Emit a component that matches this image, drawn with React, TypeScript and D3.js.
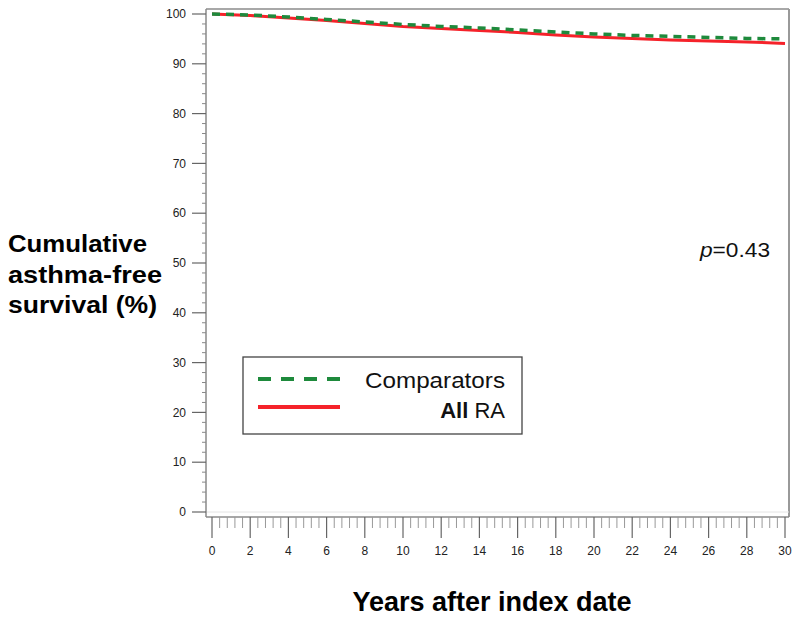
import React from "react";
import * as d3 from "d3";

const years = [0, 2, 4, 6, 8, 10, 12, 14, 16, 18, 20, 22, 24, 26, 28, 30];
const comparators = [100, 99.8, 99.4, 98.9, 98.4, 97.9, 97.5, 97.2, 96.8, 96.4, 96.0, 95.7, 95.5, 95.3, 95.1, 95.0];
const allRA = [100, 99.7, 99.2, 98.7, 98.1, 97.5, 97.1, 96.7, 96.3, 95.8, 95.4, 95.1, 94.8, 94.6, 94.4, 94.1];
const yTicks = [0, 10, 20, 30, 40, 50, 60, 70, 80, 90, 100];
const xTicks = [0, 2, 4, 6, 8, 10, 12, 14, 16, 18, 20, 22, 24, 26, 28, 30];
const seriesNames = ["Comparators", "All RA"];

export default function App() {
  const W = 800, H = 619;
  const x = d3.scaleLinear().domain([0, 30]).range([212, 785]);
  const y = d3.scaleLinear().domain([0, 100]).range([512, 14]);
  const frame = { left: 206, right: 789, top: 9, bottom: 517 };
  const line = d3.line<[number, number]>().x(d => x(d[0])).y(d => y(d[1]));
  const greenPts = years.map((t, i) => [t, comparators[i]] as [number, number]);
  const redPts = years.map((t, i) => [t, allRA[i]] as [number, number]);
  const yMinor = d3.range(0, 101, 2).filter(v => v % 10 !== 0);
  const xMinor = d3.range(0, 30.01, 0.4).filter(v => Math.abs(v / 2 - Math.round(v / 2)) > 0.01);
  const font = "'Liberation Sans', Arial, sans-serif";
  const axisColor = "#8a8a8a";
  const green = "#1e8a3c";
  const red = "#f5222a";

  return (
    <div style={{ position: "absolute", left: 0, top: 0 }}>
      <svg width={W} height={H} style={{ display: "block", background: "#fff" }}>
        {/* frame */}
        <line x1={frame.left} x2={frame.right} y1={frame.top} y2={frame.top} stroke="#a8a8a8" strokeWidth={2} />
        <line x1={frame.right} x2={frame.right} y1={frame.top} y2={frame.bottom} stroke="#999" strokeWidth={2} />
        <line x1={frame.left} x2={frame.right} y1={y(0)} y2={y(0)} stroke="#e4e4e4" strokeWidth={1} />
        {/* y axis */}
        <line x1={frame.left} x2={frame.left} y1={frame.top} y2={frame.bottom} stroke={axisColor} strokeWidth={1.5} />
        {yTicks.map(v => (
          <g key={"yt" + v}>
            <line x1={192} x2={frame.left} y1={y(v)} y2={y(v)} stroke="#666" strokeWidth={1.2} />
            <text x={186} y={y(v)} dy="0.35em" textAnchor="end" fontFamily={font} fontSize={12} fill="#222">{v}</text>
          </g>
        ))}
        {yMinor.map(v => (
          <line key={"ym" + v} x1={202} x2={frame.left} y1={y(v)} y2={y(v)} stroke="#888" strokeWidth={1} />
        ))}
        {/* x axis */}
        <line x1={frame.left} x2={frame.right} y1={frame.bottom} y2={frame.bottom} stroke={axisColor} strokeWidth={1.5} />
        {xTicks.map(v => (
          <g key={"xt" + v}>
            <line x1={x(v)} x2={x(v)} y1={frame.bottom} y2={538} stroke="#666" strokeWidth={1.2} />
            <text x={x(v)} y={555} textAnchor="middle" fontFamily={font} fontSize={12} fill="#222">{v}</text>
          </g>
        ))}
        {xMinor.map(v => (
          <line key={"xm" + v} x1={x(v)} x2={x(v)} y1={frame.bottom} y2={528} stroke="#999" strokeWidth={1} />
        ))}
        {/* curves */}
        <path d={line(redPts) || ""} fill="none" stroke={red} strokeWidth={3} />
        <path d={line(greenPts) || ""} fill="none" stroke={green} strokeWidth={3.5} strokeDasharray="8,6" />
        {/* p value */}
        <text x={770} y={257} textAnchor="end" fontFamily={font} fontSize={20} fill="#111" textLength={70} lengthAdjust="spacingAndGlyphs">
          <tspan fontStyle="italic">p</tspan>=0.43
        </text>
        {/* legend */}
        <rect x={243} y={357} width={279} height={77} fill="#fff" stroke="#444" strokeWidth={1.3} />
        <line x1={258} x2={340} y1={379} y2={379} stroke={green} strokeWidth={4} strokeDasharray="13,10" />
        <line x1={258} x2={340} y1={407} y2={407} stroke={red} strokeWidth={4} />
        <text x={505} y={388} textAnchor="end" fontFamily={font} fontSize={22} fill="#111" textLength={140} lengthAdjust="spacingAndGlyphs">{seriesNames[0]}</text>
        <text x={505} y={418} textAnchor="end" fontFamily={font} fontSize={22} fill="#111">
          <tspan fontWeight="bold">All</tspan> RA
        </text>
        {/* y title */}
        <g fontFamily={font} fontSize={24} fontWeight="bold" fill="#000">
          <text x={8} y={252} textLength={139} lengthAdjust="spacingAndGlyphs">Cumulative</text>
          <text x={8} y={283} textLength={154} lengthAdjust="spacingAndGlyphs">asthma-free</text>
          <text x={8} y={313} textLength={149} lengthAdjust="spacingAndGlyphs">survival (%)</text>
        </g>
        {/* x title */}
        <text x={492} y={611} textAnchor="middle" fontFamily={font} fontSize={27} fontWeight="bold" fill="#000">Years after index date</text>
      </svg>
    </div>
  );
}
